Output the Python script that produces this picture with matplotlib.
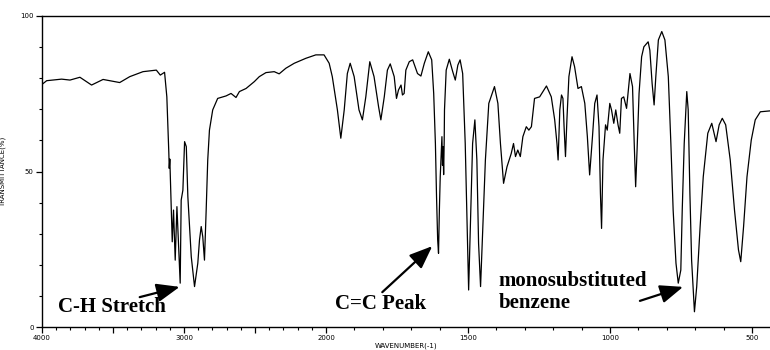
import matplotlib
import numpy as np

matplotlib.use("Agg")
import matplotlib.pyplot as plt
from matplotlib.ticker import FixedLocator, FixedFormatter

matplotlib.rcParams.update(
    {
        "font.family": "DejaVu Sans",
        "axes.linewidth": 1.0,
        "xtick.major.width": 0.9,
        "ytick.major.width": 0.9,
        "xtick.minor.width": 0.8,
        "ytick.minor.width": 0.8,
    }
)

# IR spectrum (wavenumber in cm-1, transmittance in %)
wavenumber = [
    4000, 3967, 3862, 3803, 3733, 3651, 3570, 3453, 3382, 3289, 3195, 3167, 3137,
    3121, 3107, 3104, 3100, 3090, 3083, 3074, 3062, 3050, 3039, 3027, 3020, 3008,
    2996, 2984, 2973, 2949, 2926, 2903, 2891, 2879, 2868, 2856, 2844, 2833, 2821,
    2798, 2763, 2704, 2669, 2634, 2610, 2563, 2505, 2470, 2423, 2365, 2330, 2283,
    2224, 2142, 2072, 2014, 1989, 1978, 1960, 1948, 1936, 1925, 1915, 1901, 1884,
    1872, 1860, 1846, 1831, 1815, 1807, 1795, 1784, 1774, 1760, 1752, 1745, 1736,
    1731, 1725, 1719, 1707, 1695, 1678, 1666, 1654, 1640, 1628, 1621, 1615, 1611,
    1607, 1604, 1601, 1598, 1592, 1590, 1588, 1586, 1584, 1583, 1577, 1566, 1554,
    1545, 1536, 1528, 1519, 1510, 1503, 1498, 1492, 1484, 1476, 1469, 1463, 1456,
    1448, 1439, 1427, 1407, 1395, 1386, 1375, 1363, 1348, 1340, 1333, 1325, 1316,
    1307, 1295, 1286, 1277, 1266, 1248, 1224, 1207, 1195, 1187, 1183, 1177, 1171,
    1166, 1162, 1157, 1152, 1145, 1134, 1125, 1113, 1101, 1089, 1080, 1072, 1062,
    1054, 1046, 1039, 1034, 1030, 1025, 1016, 1010, 1001, 995, 987, 980, 972, 966,
    960, 952, 942, 930, 921, 915, 910, 905, 898, 889, 881, 866, 860, 852, 845, 839,
    830, 818, 807, 795, 786, 778, 768, 760, 751, 746, 739, 730, 725, 719, 713, 703,
    695, 683, 672, 656, 642, 634, 627, 616, 605, 593, 577, 562, 548, 540, 530, 518,
    503, 489, 471, 436,
]
transmittance = [
    78.0, 79.2, 79.7, 79.4, 80.3, 77.8, 79.6, 78.6, 80.5, 82.1, 82.6, 81.0, 81.9,
    74.0, 56.0, 51.0, 54.0, 37.6, 27.4, 37.6, 21.5, 38.7, 27.0, 14.1, 40.8, 44.0,
    59.6, 58.0, 41.9, 22.6, 13.0, 20.5, 28.0, 32.3, 29.0, 21.5, 37.6, 53.7, 63.3,
    69.8, 73.5, 74.3, 75.1, 73.8, 75.7, 76.7, 78.9, 80.5, 81.8, 82.1, 81.4, 83.2,
    84.8, 86.4, 87.5, 87.5, 84.8, 80.5, 69.8, 60.7, 69.8, 81.5, 84.8, 80.5, 69.8,
    66.6, 74.0, 85.3, 80.5, 70.8, 66.6, 74.0, 82.6, 84.6, 80.5, 73.5, 76.2, 77.8,
    74.6, 75.1, 82.6, 85.3, 85.9, 81.5, 80.7, 84.8, 88.5, 85.9, 75.1, 59.0, 41.9,
    28.0, 23.7, 37.6, 48.3, 61.2, 52.0, 58.0, 49.0, 60.0, 69.8, 82.6, 86.1, 82.1,
    79.4, 84.2, 85.9, 81.5, 59.0, 32.3, 11.9, 32.3, 59.0, 66.6, 53.7, 26.9, 13.0,
    32.3, 53.7, 71.9, 77.3, 71.9, 59.0, 46.2, 51.5, 55.8, 59.0, 54.8, 56.9, 54.8,
    61.2, 64.4, 63.3, 64.4, 73.5, 74.0, 77.5, 74.0, 66.6, 59.0, 53.7, 69.8, 74.6,
    73.5, 64.4, 54.8, 66.6, 80.5, 86.9, 83.7, 76.7, 77.3, 71.9, 61.2, 48.9, 61.2,
    71.9, 74.6, 64.4, 43.0, 31.7, 53.7, 65.0, 63.3, 71.9, 69.8, 65.5, 69.8, 65.0, 62.3,
    73.5, 74.0, 70.3, 81.5, 77.3, 59.0, 45.1, 56.9, 75.1, 86.9, 90.1, 91.7, 89.0, 78.3, 71.4, 80.5,
    92.3, 95.0, 92.3, 80.5, 59.0, 37.6, 20.5, 14.1, 18.3, 37.6, 59.0, 75.7, 69.8, 43.0, 21.5, 4.9,
    13.0, 32.3, 48.3, 62.3, 65.5, 62.3, 59.6, 65.0, 67.1, 65.0, 53.7, 37.6, 24.8, 21.0, 32.3, 48.3,
    60.1, 66.6, 69.2, 69.5,
]

x_major = [4000, 3500, 3000, 2500, 2000, 1500, 1000, 500]
x_major_labels = ["4000", "", "3000", "", "2000", "1500", "1000", "500"]
y_major = [0, 50, 100]
y_major_labels = ["0", "50", "100"]


# classic IR layout: 4000-2000 drawn at half the scale of 2000-400
def compress(w):
    w = np.asarray(w, dtype=float)
    return np.where(w <= 2000, w, 2000 + (w - 2000) / 2)


def expand(u):
    u = np.asarray(u, dtype=float)
    return np.where(u <= 2000, u, 2000 + (u - 2000) * 2)


fig = plt.figure(figsize=(7.7, 3.5), dpi=100)
ax = fig.add_axes([42 / 770, 1 - 327 / 350, 728 / 770, 311 / 350])
ax.set_xscale("function", functions=(compress, expand))
ax.plot(wavenumber, transmittance, color="black", linewidth=0.9)
ax.set_xlim(4000, 437)
ax.set_ylim(0, 100)

x_minor = [w for w in range(500, 4001, 100) if w not in x_major]
ax.xaxis.set_major_locator(FixedLocator(x_major))
ax.xaxis.set_major_formatter(FixedFormatter(x_major_labels))
ax.xaxis.set_minor_locator(FixedLocator(x_minor))
ax.yaxis.set_major_locator(FixedLocator(y_major))
ax.yaxis.set_major_formatter(FixedFormatter(y_major_labels))
ax.yaxis.set_minor_locator(FixedLocator(range(10, 100, 10)))
ax.tick_params(which="major", direction="out", length=4, labelsize=5, pad=2)
ax.tick_params(which="minor", direction="out", length=2.5)
ax.spines["right"].set_visible(False)

ax.set_xlabel("WAVENUMBER(-1)", fontsize=5, labelpad=1)
ax.set_ylabel("TRANSMITTANCE(%)", fontsize=5, labelpad=10)

note = dict(fontsize=15, fontweight="bold", family="Liberation Serif", color="black")
arrow = dict(arrowstyle="-|>,head_length=0.7,head_width=0.28", color="black",
             lw=1.6, mutation_scale=20, shrinkA=0, shrinkB=0)

ax.text(3888, 6.4, "C-H Stretch", ha="left", va="center", **note)
ax.annotate("", xy=(3031, 12.9), xytext=(3312, 9.6), arrowprops=arrow)

ax.text(1968, 7.3, "C=C Peak", ha="left", va="center", **note)
ax.annotate("", xy=(1626, 26.0), xytext=(1802, 11.2), arrowprops=arrow)

ax.text(1393, 11.2, "monosubstituted\nbenzene", ha="left", va="center",
        linespacing=1.15, **note)
ax.annotate("", xy=(743, 12.9), xytext=(895, 8.4), arrowprops=arrow)

fig.savefig("out.png", dpi=100)
